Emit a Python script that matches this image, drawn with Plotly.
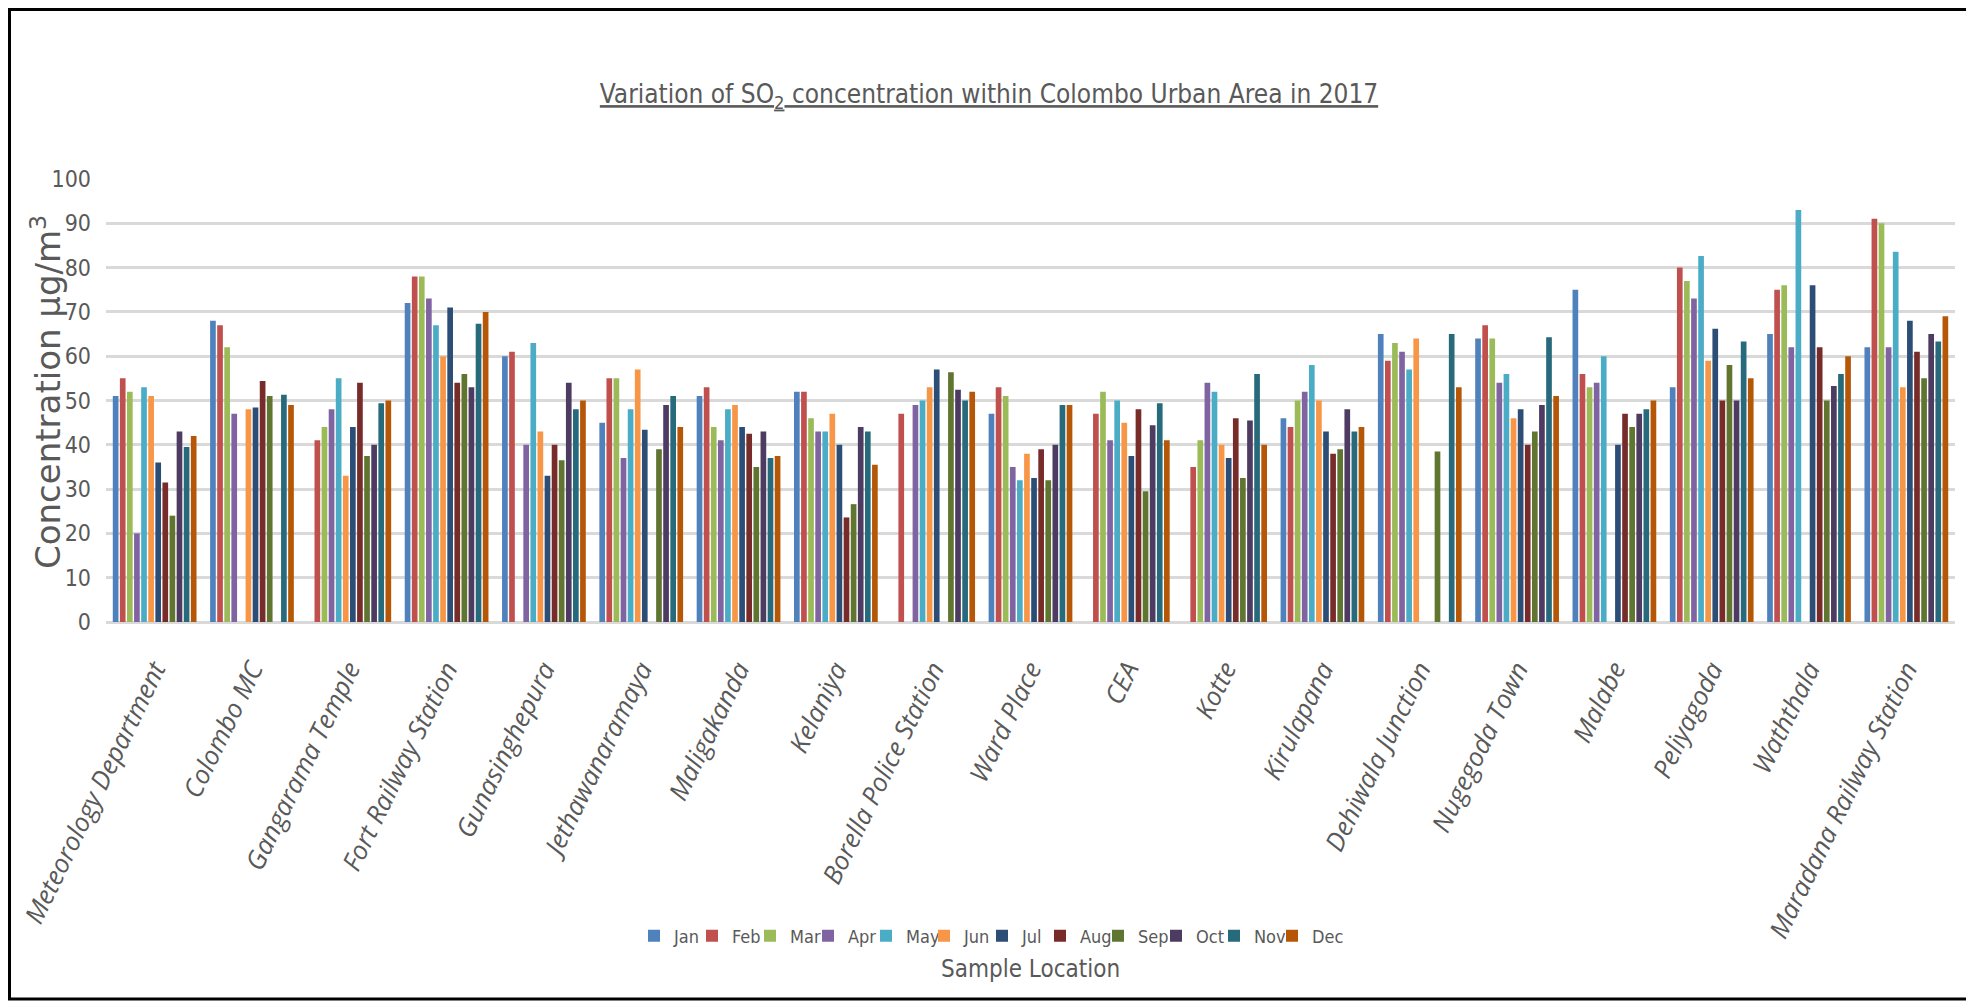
import plotly.graph_objects as go

locations = ["Meteorology Department", "Colombo MC", "Gangarama Temple", "Fort Railway Station",
             "Gunasinghepura", "Jethawanaramaya", "Maligakanda", "Kelaniya", "Borella Police Station",
             "Ward Place", "CEA", "Kotte", "Kirulapana", "Dehiwala Junction", "Nugegoda Town",
             "Malabe", "Peliyagoda", "Waththala", "Maradana Railway Station"]

months = ["Jan", "Feb", "Mar", "Apr", "May", "Jun", "Jul", "Aug", "Sep", "Oct", "Nov", "Dec"]

jan = [51, 68, None, 72, 60, 45, 51, 52, None, 47, None, None, 46, 65, 64, 75, 53, 65, 62]
feb = [55, 67, 41, 78, 61, 55, 53, 52, 47, 53, 47, 35, 44, 59, 67, 56, 80, 75, 91]
mar = [52, 62, 44, 78, None, 55, 44, 46, None, 51, 52, 41, 50, 63, 64, 53, 77, 76, 90]
apr = [20, 47, 48, 73, 40, 37, 41, 43, 49, 35, 41, 54, 52, 61, 54, 54, 73, 62, 62]
may = [53, None, 55, 67, 63, 48, 48, 43, 50, 32, 50, 52, 58, 57, 56, 60, 82.6, 93, 83.6]
jun = [51, 48, 33, 60, 43, 57, 49, 47, 53, 38, 45, 40, 50, 64, 46, None, 59, None, 53]
jul = [36, 48.4, 44, 71, 33, 43.4, 44, 40, 57, 32.5, 37.5, 37, 43, None, 48, 40, 66.2, 76, 68]
aug = [31.5, 54.4, 54, 54, 40, None, 42.5, 23.6, None, 39, 48, 46, 38, None, 40, 47, 50, 62, 61]
sep = [24, 51, 37.5, 56, 36.5, 39, 35, 26.6, 56.4, 32, 29.5, 32.5, 39, 38.5, 43, 44, 58, 50, 55]
oct_ = [43, None, 40, 53, 54, 49, 43, 44, 52.4, 40, 44.4, 45.5, 48, None, 49, 47, 50, 53.3, 65]
nov = [39.5, 51.3, 49.4, 67.3, 48, 51, 37, 43, 50, 49, 49.4, 56, 43, 65, 64.3, 48, 63.3, 56, 63.3]
dec = [42, 49, 50, 70, 50, 44, 37.5, 35.5, 52, 49, 41, 40, 44, 53, 51, 50, 55, 60, 69]

series = [jan, feb, mar, apr, may, jun, jul, aug, sep, oct_, nov, dec]
colors = ["#4F81BD", "#C0504D", "#9BBB59", "#8064A2", "#4BACC6", "#F79646",
          "#2C4D75", "#772C2A", "#5F7530", "#4D3B62", "#276A7C", "#B65708"]

W, H = 1974, 1001
OFF = 8  # page body margin
# plot area in page pixels
PL, PR, PT, PB = 106, 1955, 179, 622
L, R, T, B = PL - OFF, PR - OFF, PT - OFF, PB - OFF
pw, ph = R - L, B - T


def px_x(x):
    return (x - OFF - L) / pw


def px_y(y):
    return (B - (y - OFF)) / ph


cond = "DejaVu Sans Condensed, Liberation Sans Narrow, Liberation Sans, sans-serif"
grey = "#595959"

LEG_LEFT = 634
ENTRY = 58

fig = go.Figure()
legends = {}
for i, (m, vals, c) in enumerate(zip(months, series, colors)):
    key = "legend" if i == 0 else f"legend{i + 1}"
    fig.add_trace(go.Bar(x=locations, y=vals, name=m,
                         marker=dict(color=c, line=dict(width=0)),
                         legend=key))
    legends[key] = dict(
        orientation="h", yanchor="middle", y=px_y(936), xanchor="left",
        x=px_x(LEG_LEFT + i * ENTRY),
        font=dict(family=cond, size=18, color=grey),
        itemwidth=30, bgcolor="rgba(0,0,0,0)", borderwidth=0,
    )

fig.update_layout(
    width=W, height=H,
    margin=dict(l=L, r=W - R, t=T, b=H - B, autoexpand=False),
    paper_bgcolor="white", plot_bgcolor="white",
    barmode="group", bargap=0.125, bargroupgap=0.2,
    title=dict(
        text="<u>Variation of SO<sub>2</sub> concentration within Colombo Urban Area in 2017</u>",
        x=(989 - OFF) / W, xanchor="center", xref="container",
        y=1 - (94 - OFF) / H, yanchor="middle",
        font=dict(family=cond, size=26, color=grey),
    ),
    showlegend=True,
    font=dict(family=cond, color=grey),
    **legends,
)

fig.update_xaxes(
    type="category", showgrid=False, zeroline=False, showline=False, automargin=False,
    tickangle=-64, ticks="", ticklabelstandoff=26,
    tickfont=dict(family="Open Sans, sans-serif", size=26, color=grey, style="italic"),
)
fig.update_yaxes(
    range=[0, 100], dtick=10, showgrid=True, gridcolor="#D9D9D9", gridwidth=2.5,
    zeroline=True, zerolinecolor="#D9D9D9", zerolinewidth=2.5, showline=False,
    automargin=False, ticks="", ticklabelstandoff=14,
    tickfont=dict(family=cond, size=23, color=grey),
)

fig.add_annotation(
    text="Concentration μg/m<sup>3</sup>", textangle=-90,
    x=px_x(46), y=px_y(392), xref="paper", yref="paper",
    xanchor="center", yanchor="middle", showarrow=False,
    font=dict(family="DejaVu Sans, sans-serif", size=34, color=grey),
)
fig.add_annotation(
    text="Sample Location",
    x=px_x(1030), y=px_y(969), xref="paper", yref="paper",
    xanchor="center", yanchor="middle", showarrow=False,
    font=dict(family=cond, size=24, color=grey),
)
fig.add_shape(
    type="rect", xref="paper", yref="paper",
    x0=px_x(OFF + 1.5), x1=px_x(1968), y0=px_y(999), y1=px_y(OFF + 1.5),
    line=dict(color="black", width=3), fillcolor="rgba(0,0,0,0)", layer="below",
)

fig.write_html("out.html")
